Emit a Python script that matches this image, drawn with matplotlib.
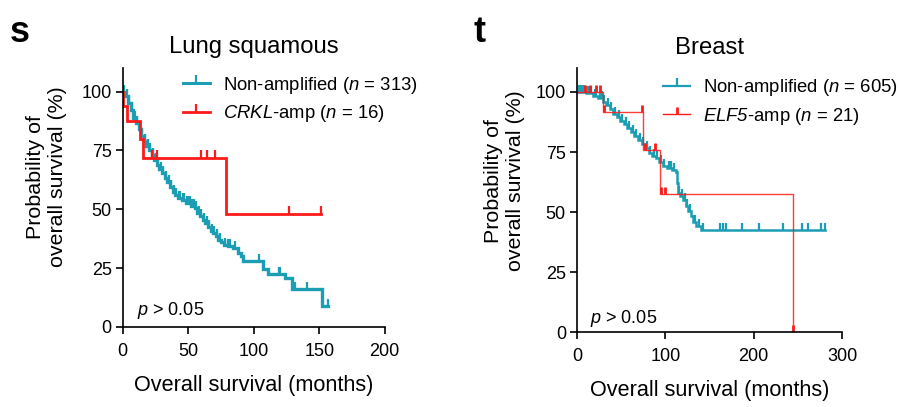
import numpy as np
import matplotlib
matplotlib.use('Agg')
import matplotlib.pyplot as plt
from matplotlib.lines import Line2D

plt.rcParams['font.family'] = ['Liberation Sans', 'DejaVu Sans']
plt.rcParams['mathtext.fontset'] = 'custom'
plt.rcParams['mathtext.it'] = 'Liberation Sans:italic'
plt.rcParams['mathtext.sf'] = 'Liberation Sans:italic'
plt.rcParams['mathtext.rm'] = 'Liberation Sans'

teal = '#1b9db3'
red = '#ff1a1a'

# Lung squamous - Non-amplified (n = 313)
lung_non_t = [0, 2, 4, 6, 8, 10, 12, 14, 16, 18, 20, 22, 24, 26, 28, 30, 32, 34, 36, 38,
              40, 42, 45, 48, 52, 55, 57, 59, 61, 63, 65, 67, 69, 71, 73, 75, 77, 80, 84,
              88, 90, 92, 107, 111, 124, 129, 151.8]
lung_non_s = [100, 98, 95, 92, 89, 86.5, 84, 81, 79, 77, 75, 73, 71, 69, 67, 65.5, 63.5,
              61.5, 59.5, 57.5, 56, 55, 54, 52.5, 51.5, 50.5, 48.5, 47, 45.5, 44, 42.5, 41,
              40, 38.5, 37, 36, 35, 34.5, 33.5, 31.5, 30, 28.2, 24.7, 22.5, 21, 16.2, 8.8]
lung_non_end = 157
lung_non_cens = [1, 3, 5, 7, 9, 11, 13, 15, 17, 19, 21, 23, 25, 27, 29, 31, 33, 35, 37, 39,
                 41, 43, 44, 46, 47, 49, 50, 51, 53, 54, 56, 58, 60, 62, 64, 66, 68, 70, 72,
                 74, 78, 80, 81, 82, 86, 104, 119, 120, 131.5, 140.4, 157]

# Lung squamous - CRKL-amp (n = 16)
lung_amp_t = [0, 0.5, 3, 13.5, 15.5, 78.7]
lung_amp_s = [100, 93.75, 87.5, 80, 72, 48]
lung_amp_end = 151
lung_amp_cens = [22.3, 26.1, 60, 64, 70.6, 126.6, 151]

# Breast - Non-amplified (n = 605)
br_non_t = [0, 10, 18, 24, 29, 33, 37, 41, 45, 49, 53, 57, 61, 65, 69, 73, 77, 81, 85, 89,
            93, 97, 102, 108, 112, 113, 114.3, 117, 120, 123, 126, 129, 131, 135, 140.8]
br_non_s = [100, 99.5, 98.5, 97.5, 96, 94.5, 92.8, 91, 89.5, 88, 86.5, 85, 83.5, 81.5, 80,
            78.5, 76.5, 74.5, 73.5, 72.5, 71, 69, 68.2, 67.5, 66.5, 62, 58, 56.5, 55, 52.5,
            50.5, 48.5, 46, 44, 42.7]
br_non_end = 280.4
br_non_cens = [2, 4, 6, 8, 12, 14, 16, 20, 22, 26, 28, 31, 35, 39, 43, 47, 51, 55, 59, 63,
               67, 71, 75, 79, 83, 87, 91, 95, 99, 104, 106, 110, 116, 119, 122, 125, 128,
               133, 138, 143, 161.5, 165, 169, 187, 206, 233, 254.7, 261.5, 276.6, 280.4]

# Breast - ELF5-amp (n = 21)
br_amp_t = [0, 29.4, 75, 93.5, 244]
br_amp_s = [100, 91.5, 76, 57.5, 0]
br_amp_end = 244
br_amp_cens = [8.7, 14.3, 22, 26.4, 31, 74, 77, 88, 95, 100, 244]


def km(ax, t, s, end, cens, color, lw, ms, mew, alpha=1.0):
    tt = list(t) + [end]
    ss = list(s) + [s[-1]]
    ax.step(tt, ss, where='post', color=color, lw=lw, alpha=alpha, solid_joinstyle='miter')
    idx = np.searchsorted(t, cens, side='right') - 1
    cs = np.array(s)[idx]
    ax.plot(cens, cs, linestyle='none', marker=2, color=color, ms=ms, mew=mew)


def style(ax, xmax, xticks):
    ax.spines['top'].set_visible(False)
    ax.spines['right'].set_visible(False)
    ax.spines['left'].set_linewidth(1.2)
    ax.spines['bottom'].set_linewidth(1.2)
    ax.set_xlim(0, xmax)
    ax.set_ylim(0, 110)
    ax.set_xticks(xticks)
    ax.set_yticks([0, 25, 50, 75, 100])
    ax.tick_params(direction='out', length=5, width=1.2, labelsize=13)
    ax.tick_params(axis='x', pad=6.5)
    ax.tick_params(axis='y', pad=3)
    ax.set_xlabel('Overall survival (months)', fontsize=15.6, labelpad=11)


fig = plt.figure(figsize=(9.03, 4.07), dpi=100)

ax1 = fig.add_axes([0.136, 0.1966, 0.290, 0.636])
km(ax1, lung_non_t, lung_non_s, lung_non_end, lung_non_cens, teal, 2.4, 5, 1.6)
km(ax1, lung_amp_t, lung_amp_s, lung_amp_end, lung_amp_cens, red, 2.0, 6, 1.6)
style(ax1, 200, [0, 50, 100, 150, 200])
ax1.set_title('Lung squamous', fontsize=17.2, pad=11)
ax1.set_ylabel('Probability of\noverall survival (%)', fontsize=15.4)
ax1.yaxis.set_label_coords(-0.214, 0.58)
ax1.text(0.053, 0.046, r'$\mathit{p}$ > 0.05', transform=ax1.transAxes, fontsize=13,
         va='baseline')
h1 = [Line2D([0], [0], color=teal, lw=2.2, marker=2, ms=6, mew=1.6),
      Line2D([0], [0], color=red, lw=2.0, marker=2, ms=6, mew=1.6)]
ax1.legend(h1, [r'Non-amplified ($\mathit{n}$ = 313)', r'$\mathsf{CRKL}$-amp ($\mathit{n}$ = 16)'],
           loc='upper left', bbox_to_anchor=(0.229, 0.975), frameon=False, fontsize=13.3,
           borderpad=0, borderaxespad=0, handlelength=1.46, handletextpad=0.7,
           labelspacing=0.4, numpoints=1)

ax2 = fig.add_axes([0.639, 0.184, 0.2935, 0.649])
km(ax2, br_non_t, br_non_s, br_non_end, br_non_cens, teal, 1.8, 5, 1.6)
km(ax2, br_amp_t, br_amp_s, br_amp_end, br_amp_cens, red, 1.0, 5, 2.0, alpha=0.85)
style(ax2, 300, [0, 100, 200, 300])
ax2.set_title('Breast', fontsize=17.2, pad=10)
ax2.set_ylabel('Probability of\noverall survival (%)', fontsize=15.4)
ax2.yaxis.set_label_coords(-0.196, 0.572)
ax2.text(0.049, 0.033, r'$\mathit{p}$ > 0.05', transform=ax2.transAxes, fontsize=13,
         va='baseline')
h2 = [Line2D([0], [0], color=teal, lw=1.6, marker=2, ms=6, mew=1.6),
      Line2D([0], [0], color=red, lw=1.0, marker=2, ms=5, mew=2.0)]
ax2.legend(h2, [r'Non-amplified ($\mathit{n}$ = 605)', r'$\mathsf{ELF5}$-amp ($\mathit{n}$ = 21)'],
           loc='upper left', bbox_to_anchor=(0.325, 0.964), frameon=False, fontsize=13.3,
           borderpad=0, borderaxespad=0, handlelength=1.46, handletextpad=0.7,
           labelspacing=0.4, numpoints=1)

fig.text(0.011, 0.897, 's', fontsize=26, fontweight='bold')
fig.text(0.524, 0.897, 't', fontsize=26, fontweight='bold')

fig.savefig('out.png', dpi=100)
